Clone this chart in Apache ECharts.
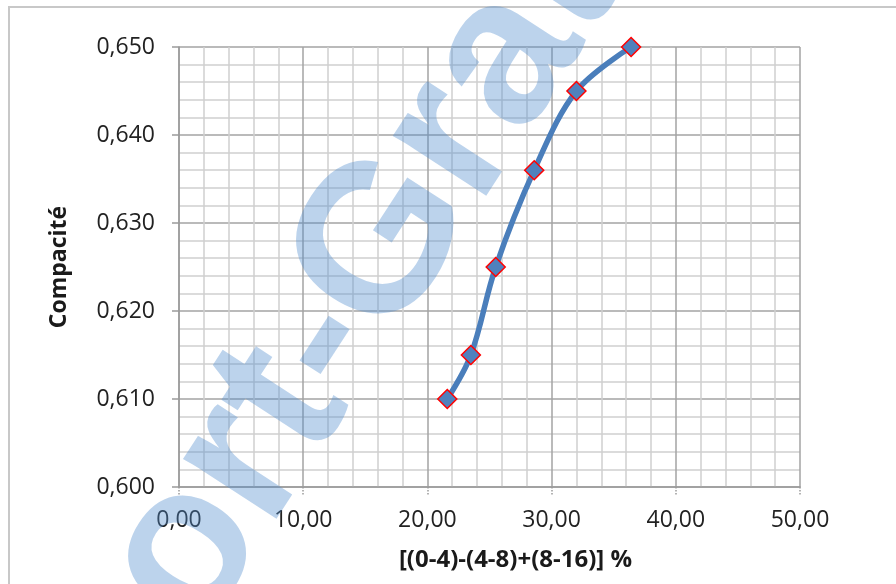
<!DOCTYPE html>
<html>
<head>
<meta charset="utf-8">
<script src="https://cdn.jsdelivr.net/npm/echarts@6/dist/echarts.min.js"></script>
<style>
html,body{margin:0;padding:0;background:#fff;}
#chart{width:896px;height:584px;}
</style>
</head>
<body>
<div id="chart"></div>
<script>
// Data
var xValues = [21.6, 23.5, 25.5, 28.6, 32.0, 36.4];
var yValues = [0.610, 0.615, 0.625, 0.636, 0.645, 0.650];
var xAxisTitle = '[(0-4)-(4-8)+(8-16)] %';
var yAxisTitle = 'Compacité';
var watermarkText = 'Sport-Gratuit';

var points = xValues.map(function (x, i) { return [x, yValues[i]]; });
var FONT = '"Open Sans", "Liberation Sans", sans-serif';

var chart = echarts.init(document.getElementById('chart'), null, {renderer: 'canvas'});
var ang = 57 * Math.PI / 180;
chart.setOption({
  animation: false,
  backgroundColor: '#ffffff',
  grid: {left: 179, right: 96, top: 47, bottom: 97},
  graphic: [
    {
      type: 'rect', z: 0, silent: true,
      shape: {x: 9, y: 7, width: 1000, height: 1000},
      style: {fill: 'none', stroke: '#c8c8c8', lineWidth: 2}
    },
    {
      type: 'text', z: 1, silent: true,
      x: 4, y: 832, rotation: ang,
      style: {
        text: watermarkText,
        fontFamily: '"Liberation Sans", Arial, sans-serif',
        fontWeight: 'bold',
        fontSize: 210,
        fill: 'rgba(80,140,205,0.38)',
        textAlign: 'left',
        textVerticalAlign: 'middle'
      }
    }
  ],
  xAxis: {
    type: 'value', min: 0, max: 50, interval: 10,
    name: xAxisTitle, nameLocation: 'middle', nameGap: 61,
    nameTextStyle: {fontFamily: FONT, fontWeight: 'bold', fontSize: 24, color: '#1a1a1a', padding: [0, 0, 0, 52]},
    axisLine: {show: true, onZero: false, lineStyle: {color: '#9a9a9a', width: 1.5}},
    axisTick: {show: true, length: 8, lineStyle: {color: '#9a9a9a', type: 'dotted', width: 1.5}},
    axisLabel: {fontFamily: FONT, fontSize: 23, color: '#222', margin: 22,
      formatter: function (v) { return v.toFixed(2).replace('.', ','); }},
    splitLine: {show: true, lineStyle: {color: '#a3a3a3', width: 1.5}},
    minorTick: {show: false, splitNumber: 5},
    minorSplitLine: {show: true, lineStyle: {color: '#d0d0d0', width: 1.5}}
  },
  yAxis: {
    type: 'value', min: 0.600, max: 0.650, interval: 0.010,
    name: yAxisTitle, nameLocation: 'middle', nameGap: 108, nameRotate: 90,
    nameTextStyle: {fontFamily: FONT, fontWeight: 'bold', fontSize: 23, color: '#1a1a1a'},
    axisLine: {show: true, lineStyle: {color: '#9a9a9a', width: 1.5}},
    axisTick: {show: true, length: 7, lineStyle: {color: '#9a9a9a', width: 1.5}},
    axisLabel: {fontFamily: FONT, fontSize: 23, color: '#222', margin: 24,
      formatter: function (v) { return v.toFixed(3).replace('.', ','); }},
    splitLine: {show: true, lineStyle: {color: '#a3a3a3', width: 1.5}},
    minorTick: {show: false, splitNumber: 5},
    minorSplitLine: {show: true, lineStyle: {color: '#d0d0d0', width: 1.5}}
  },
  series: [{
    type: 'line',
    data: points,
    smooth: 0.35,
    z: 5,
    symbol: 'diamond',
    symbolSize: [19, 19],
    lineStyle: {color: '#4a7ebb', width: 5.5},
    itemStyle: {color: '#4f81bd', borderColor: '#ff0000', borderWidth: 1.5}
  }]
});
</script>
</body>
</html>
